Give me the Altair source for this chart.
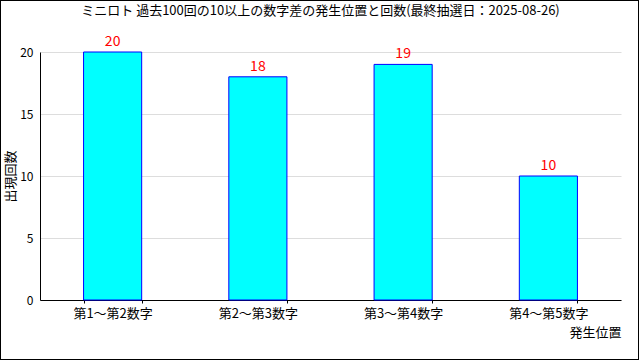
import altair as alt
import pandas as pd

categories = ["第1～第2数字", "第2～第3数字", "第3～第4数字", "第4～第5数字"]
counts = [20, 18, 19, 10]
y_ticks = [0, 5, 10, 15, 20]

title_text = "ミニロト 過去100回の10以上の数字差の発生位置と回数(最終抽選日：2025-08-26)"
FONT = "Noto Sans CJK JP"

df = pd.DataFrame({"cat": categories, "count": counts})

x_enc = alt.X(
    "cat:N",
    sort=categories,
    scale=alt.Scale(paddingInner=0.6, paddingOuter=0.3),
    axis=alt.Axis(
        title="発生位置",
        labelAngle=0,
        tickBand="extent",
        tickSize=3,
        tickColor="black",
        domainColor="black",
        labelPadding=4,
        labelFontSize=13,
        labelColor="black",
        titleFontSize=13,
        titleFontWeight="normal",
        titleAnchor="end",
        titlePadding=6,
        titleColor="black",
    ),
)
y_enc = alt.Y(
    "count:Q",
    scale=alt.Scale(domain=[0, 20], nice=False),
    axis=alt.Axis(
        title="出現回数",
        values=y_ticks,
        tickSize=0,
        labelPadding=7,
        labelFontSize=12,
        labelColor="black",
        domainColor="black",
        gridColor="#dddddd",
        titleFontSize=13,
        titleFontWeight="normal",
        titlePadding=2,
        titleColor="black",
    ),
)

bars = alt.Chart(df).mark_bar(color="#00ffff", stroke="#0000ff", strokeWidth=1).encode(
    x=x_enc, y=y_enc
)
labels = alt.Chart(df).mark_text(
    color="red", fontSize=14, baseline="bottom", dy=-3, font=FONT
).encode(x=alt.X("cat:N", sort=categories), y="count:Q", text="count:Q")

frame = alt.Chart(df).mark_rect(fill=None, stroke="black", strokeWidth=1).encode(
    x=alt.value(-39.5), x2=alt.value(598.5), y=alt.value(-51.5), y2=alt.value(307.5)
)

chart = (
    alt.layer(bars, labels, frame)
    .properties(
        width=581,
        height=248,
        autosize=alt.AutoSizeParams(type="none"),
        padding={"left": 40, "top": 52, "right": 19, "bottom": 60},
        title=alt.TitleParams(
            text=title_text, fontSize=13, fontWeight="normal", font=FONT,
            color="black", anchor="middle", dx=-10, dy=22, offset=4,
        ),
        background="white",
    )
    .configure_view(stroke=None)
    .configure_axis(labelFont=FONT, titleFont=FONT)
)

chart.save("out.html", embed_options={"renderer": "svg", "actions": False})
